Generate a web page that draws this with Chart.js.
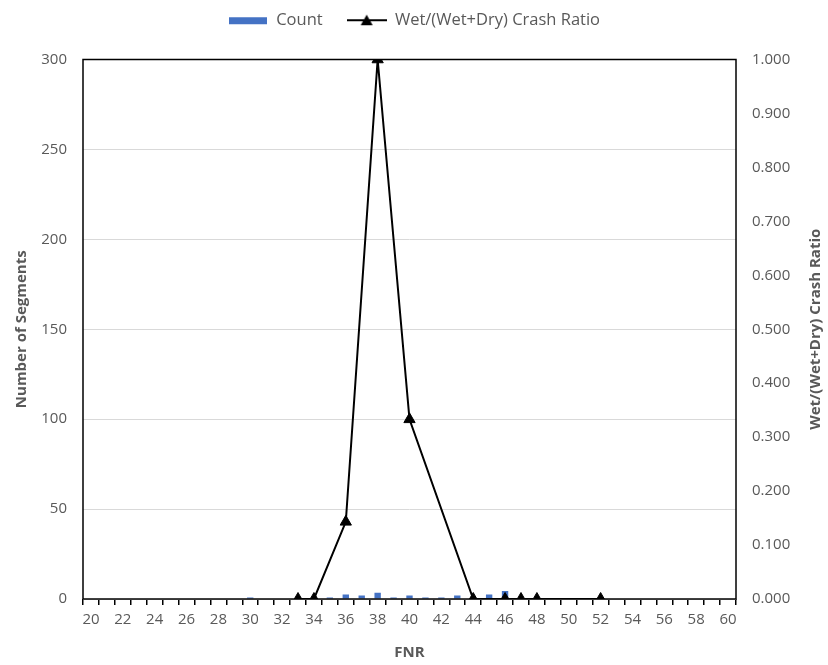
<!DOCTYPE html>
<html>
<head>
<meta charset="utf-8">
<script src="https://cdn.jsdelivr.net/npm/chart.js@4.4.1/dist/chart.umd.min.js"></script>
<style>
html,body{margin:0;padding:0;background:#fff;}
#wrap{width:828px;height:665px;position:relative;}
</style>
</head>
<body>
<div id="wrap"><canvas id="c" width="828" height="665"></canvas></div>
<script>
const categories = ['20','21','22','23','24','25','26','27','28','29','30','31','32','33','34','35','36','37','38','39','40','41','42','43','44','45','46','47','48','49','50','51','52','53','54','55','56','57','58','59','60'];
const countValues = [0,0,0,0,0,0,0,0,0,0,0.8,0,0,0,0,0.8,2.5,2,3.5,0.8,2,0.8,0.8,2,0,2.5,4.5,0,0,0,0,0,0,0,0,0,0,0,0,0,0];
const ratioValues = [null,null,null,null,null,null,null,null,null,null,null,null,null,0,0,null,0.143,null,1.0,null,0.333,null,null,null,0,null,0,0,0,null,null,null,0,null,null,null,null,null,null,null,null];
const leftTicks = [0,50,100,150,200,250,300];
const rightTicks = [0,0.1,0.2,0.3,0.4,0.5,0.6,0.7,0.8,0.9,1.0];

const TXT = '#595959';
const FONT = "'Open Sans', sans-serif";
const FS = 15;
const LFS = 16.5;

function makeIcon(kind){
  const cv = document.createElement('canvas');
  cv.width = 40; cv.height = 12;
  const g = cv.getContext('2d');
  if(kind==='bar'){
    g.fillStyle = '#4472C4';
    g.fillRect(1,3,38,7);
  } else {
    g.strokeStyle = '#000'; g.lineWidth = 2;
    g.beginPath(); g.moveTo(0,6); g.lineTo(40,6); g.stroke();
    g.fillStyle = '#000';
    g.beginPath(); g.moveTo(20,0.5); g.lineTo(26,11); g.lineTo(14,11); g.closePath(); g.fill();
  }
  return cv;
}
const iconBar = makeIcon('bar');
const iconLine = makeIcon('line');

const framePlugin = {
  id:'frame',
  beforeLayout(chart){
    const lg = chart.legend;
    if(lg && !lg._patched){
      const orig = lg.fit;
      lg.fit = function(){ orig.call(this); this.height += 21; };
      lg._patched = true;
    }
  },
  afterDatasetsDraw(chart){
    const a = chart.chartArea, ctx = chart.ctx;
    ctx.save();
    ctx.strokeStyle = '#000'; ctx.lineWidth = 1.5;
    ctx.strokeRect(a.left, a.top, a.right-a.left, a.bottom-a.top);
    ctx.restore();
  },
  afterDraw(chart){
    const a = chart.chartArea, ctx = chart.ctx;
    ctx.save();
    ctx.fillStyle = TXT;
    ctx.font = "bold " + FS + "px " + FONT;
    ctx.textAlign = 'center'; ctx.textBaseline = 'middle';
    ctx.translate(816, (a.top+a.bottom)/2);
    ctx.rotate(-Math.PI/2);
    ctx.fillText('Wet/(Wet+Dry) Crash Ratio', 0, 0);
    ctx.restore();
  }
};

new Chart(document.getElementById('c'), {
  type:'bar',
  data:{
    labels: categories,
    datasets:[
      {
        type:'line', label:'Wet/(Wet+Dry) Crash Ratio', data: ratioValues, yAxisID:'y1',
        borderColor:'#000', backgroundColor:'#000', borderWidth:2,
        pointStyle:'triangle', pointRadius:6.5, pointHoverRadius:6.5,
        pointBackgroundColor:'#000', pointBorderColor:'#000', pointBorderWidth:1,
        spanGaps:true, tension:0, order:0
      },
      {
        type:'bar', label:'Count', data: countValues, yAxisID:'y',
        backgroundColor:'#4472C4', borderWidth:0,
        barPercentage:0.4, categoryPercentage:1.0, order:1
      }
    ]
  },
  options:{
    responsive:false, animation:false,
    layout:{padding:{top:-12,left:0,right:0,bottom:0}},
    plugins:{
      tooltip:{enabled:false},
      legend:{
        position:'top', align:'center',
        labels:{
          color:TXT, font:{family:FONT,size:LFS},
          usePointStyle:true, pointStyleWidth:40, boxHeight:12, padding:24,
          generateLabels(chart){
            return [
              {text:'Count', pointStyle:iconBar, fillStyle:'#4472C4', strokeStyle:'#4472C4', lineWidth:0, fontColor:TXT, datasetIndex:1, hidden:false},
              {text:'Wet/(Wet+Dry) Crash Ratio', pointStyle:iconLine, fillStyle:'#000', strokeStyle:'#000', lineWidth:0, fontColor:TXT, datasetIndex:0, hidden:false}
            ];
          }
        }
      }
    },
    scales:{
      x:{
        offset:true,
        grid:{display:true, drawOnChartArea:false, drawTicks:true, tickLength:6, color:'#000', tickColor:'#000', offset:true, lineWidth:1.5},
        border:{display:false},
        ticks:{
          color:TXT, font:{family:FONT,size:FS}, autoSkip:false, maxRotation:0, padding:6,
          callback(v, i){ return i % 2 === 0 ? categories[i] : ''; }
        },
        title:{display:true, text:'FNR', color:TXT, font:{family:FONT,size:FS,weight:'bold'}, padding:{top:2,bottom:3}},
        afterFit(s){ s.height = 66; }
      },
      y:{
        position:'left', min:0, max:300,
        afterBuildTicks(s){ s.ticks = leftTicks.map(v=>({value:v})); },
        grid:{color:'#d9d9d9', drawTicks:false, lineWidth:1},
        border:{display:false},
        ticks:{color:TXT, font:{family:FONT,size:FS}, padding:16},
        title:{display:true, text:'Number of Segments', color:TXT, font:{family:FONT,size:FS,weight:'bold'}, padding:{top:13,bottom:0}},
        afterFit(s){ s.width = 83; }
      },
      y1:{
        position:'right', min:0, max:1,
        afterBuildTicks(s){ s.ticks = rightTicks.map(v=>({value:v})); },
        grid:{display:false, drawTicks:false},
        border:{display:false},
        ticks:{color:TXT, font:{family:FONT,size:FS}, padding:16, callback(v){ return Number(v).toFixed(3); }},
        afterFit(s){ s.width = 92; }
      }
    }
  },
  plugins:[framePlugin]
});
</script>
</body>
</html>
